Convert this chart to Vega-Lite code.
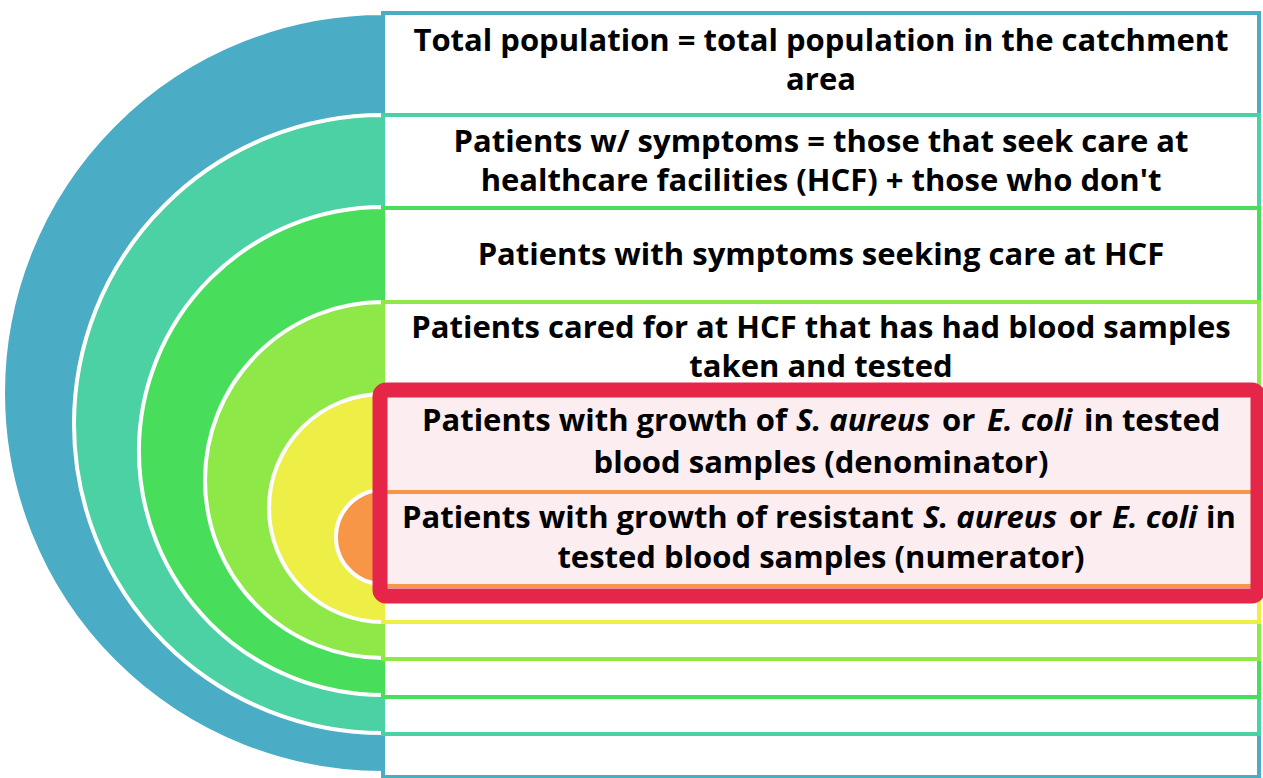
{
  "$schema": "https://vega.github.io/schema/vega-lite/v6.json",
  "width": 1263,
  "height": 778,
  "autosize": {"type": "none"},
  "padding": 0,
  "background": "white",
  "config": {"view": {"stroke": null}},
  "datasets": {
    "rings": [
      {"ring": "blue", "cx": 383, "cy": 393, "r": 380},
      {"ring": "teal", "cx": 383, "cy": 424, "r": 309},
      {"ring": "green", "cx": 383, "cy": 451, "r": 244},
      {"ring": "lightgreen", "cx": 383, "cy": 480, "r": 178},
      {"ring": "yellow", "cx": 383, "cy": 508, "r": 114},
      {"ring": "orange", "cx": 383, "cy": 537, "r": 47}
    ],
    "boxes": [
      {"ring": "blue", "x0": 383, "x1": 1259, "y0": 13, "y1": 777},
      {"ring": "teal", "x0": 383, "x1": 1259, "y0": 115, "y1": 734},
      {"ring": "green", "x0": 383, "x1": 1259, "y0": 208, "y1": 697},
      {"ring": "lightgreen", "x0": 383, "x1": 1259, "y0": 302, "y1": 659},
      {"ring": "yellow", "x0": 383, "x1": 1259, "y0": 395, "y1": 622}
    ],
    "inner": [
      {"ring": "orange", "x0": 383, "x1": 1259, "y0": 492, "y1": 586}
    ],
    "highlight": [
      {"x0": 380, "x1": 1258, "y0": 390, "y1": 596}
    ],
    "labels": [
      {"kind": "center", "text": "Total population = total population in the catchment", "x": 821, "y": 51},
      {"kind": "center", "text": "area", "x": 821, "y": 90},
      {"kind": "center", "text": "Patients w/ symptoms = those that seek care at", "x": 821, "y": 152},
      {"kind": "center", "text": "healthcare facilities (HCF) + those who don't", "x": 821, "y": 191},
      {"kind": "center", "text": "Patients with symptoms seeking care at HCF", "x": 821, "y": 265},
      {"kind": "center", "text": "Patients cared for at HCF that has had blood samples", "x": 821, "y": 338},
      {"kind": "center", "text": "taken and tested", "x": 821, "y": 377},
      {"kind": "normal", "text": "Patients with growth of", "x": 422, "y": 431},
      {"kind": "italic", "text": "S. aureus", "x": 796, "y": 431},
      {"kind": "normal", "text": "or", "x": 942, "y": 431},
      {"kind": "italic", "text": "E. coli", "x": 987, "y": 431},
      {"kind": "normal", "text": "in tested", "x": 1084, "y": 431},
      {"kind": "center", "text": "blood samples (denominator)", "x": 821, "y": 473},
      {"kind": "normal", "text": "Patients with growth of resistant", "x": 402, "y": 528},
      {"kind": "italic", "text": "S. aureus", "x": 923, "y": 528},
      {"kind": "normal", "text": "or", "x": 1069, "y": 528},
      {"kind": "italic", "text": "E. coli", "x": 1112, "y": 528},
      {"kind": "normal", "text": "in", "x": 1206, "y": 528},
      {"kind": "center", "text": "tested blood samples (numerator)", "x": 821, "y": 568}
    ]
  },
  "layer": [
    {
      "data": {"name": "rings"},
      "mark": {"type": "arc", "theta": 3.14159265, "theta2": 6.28318531, "stroke": "white", "strokeWidth": 4},
      "encoding": {
        "x": {"field": "cx", "type": "quantitative", "scale": {"domain": [0, 1263], "range": [0, 1263], "nice": false, "zero": false}, "axis": null},
        "y": {"field": "cy", "type": "quantitative", "scale": {"domain": [0, 778], "range": [0, 778], "nice": false, "zero": false}, "axis": null},
        "radius": {"field": "r", "type": "quantitative", "stack": null, "scale": {"type": "linear", "domain": [0, 1000], "range": [0, 1000], "zero": true, "nice": false}},
        "color": {"field": "ring", "type": "nominal", "scale": {"domain": ["blue", "teal", "green", "lightgreen", "yellow", "orange"], "range": ["#4BACC6", "#4BD1A3", "#48DE5B", "#8EE848", "#EDEE46", "#F79646"]}, "legend": null}
      }
    },
    {
      "data": {"name": "boxes"},
      "mark": {"type": "rect", "fill": "white", "strokeWidth": 4},
      "encoding": {
        "x": {"field": "x0", "type": "quantitative"},
        "x2": {"field": "x1"},
        "y": {"field": "y0", "type": "quantitative"},
        "y2": {"field": "y1"},
        "stroke": {"field": "ring", "type": "nominal", "scale": {"domain": ["blue", "teal", "green", "lightgreen", "yellow", "orange"], "range": ["#4BACC6", "#4BD1A3", "#48DE5B", "#8EE848", "#EDEE46", "#F79646"]}, "legend": null}
      }
    },
    {
      "data": {"name": "highlight"},
      "mark": {"type": "rect", "fill": "#FCEDF0"},
      "encoding": {
        "x": {"field": "x0", "type": "quantitative"},
        "x2": {"field": "x1"},
        "y": {"field": "y0", "type": "quantitative"},
        "y2": {"field": "y1"}
      }
    },
    {
      "data": {"name": "inner"},
      "mark": {"type": "rect", "fill": null, "fillOpacity": 0, "strokeWidth": 4},
      "encoding": {
        "x": {"field": "x0", "type": "quantitative"},
        "x2": {"field": "x1"},
        "y": {"field": "y0", "type": "quantitative"},
        "y2": {"field": "y1"},
        "stroke": {"field": "ring", "type": "nominal", "scale": {"domain": ["blue", "teal", "green", "lightgreen", "yellow", "orange"], "range": ["#4BACC6", "#4BD1A3", "#48DE5B", "#8EE848", "#EDEE46", "#F79646"]}, "legend": null}
      }
    },
    {
      "data": {"name": "highlight"},
      "mark": {"type": "rect", "fill": null, "fillOpacity": 0, "stroke": "#E62649", "strokeWidth": 15, "cornerRadius": 6},
      "encoding": {
        "x": {"field": "x0", "type": "quantitative"},
        "x2": {"field": "x1"},
        "y": {"field": "y0", "type": "quantitative"},
        "y2": {"field": "y1"}
      }
    },
    {
      "data": {"name": "labels"},
      "transform": [{"filter": "datum.kind === 'center'"}],
      "mark": {"type": "text", "align": "center", "baseline": "alphabetic", "font": "Open Sans", "fontWeight": "bold", "fontSize": 31, "color": "black"},
      "encoding": {
        "x": {"field": "x", "type": "quantitative"},
        "y": {"field": "y", "type": "quantitative"},
        "text": {"field": "text"}
      }
    },
    {
      "data": {"name": "labels"},
      "transform": [{"filter": "datum.kind === 'normal'"}],
      "mark": {"type": "text", "align": "left", "baseline": "alphabetic", "font": "Open Sans", "fontWeight": "bold", "fontSize": 31, "color": "black"},
      "encoding": {
        "x": {"field": "x", "type": "quantitative"},
        "y": {"field": "y", "type": "quantitative"},
        "text": {"field": "text"}
      }
    },
    {
      "data": {"name": "labels"},
      "transform": [{"filter": "datum.kind === 'italic'"}],
      "mark": {"type": "text", "align": "left", "baseline": "alphabetic", "font": "Open Sans", "fontWeight": "bold", "fontStyle": "italic", "fontSize": 31, "color": "black"},
      "encoding": {
        "x": {"field": "x", "type": "quantitative"},
        "y": {"field": "y", "type": "quantitative"},
        "text": {"field": "text"}
      }
    }
  ]
}
